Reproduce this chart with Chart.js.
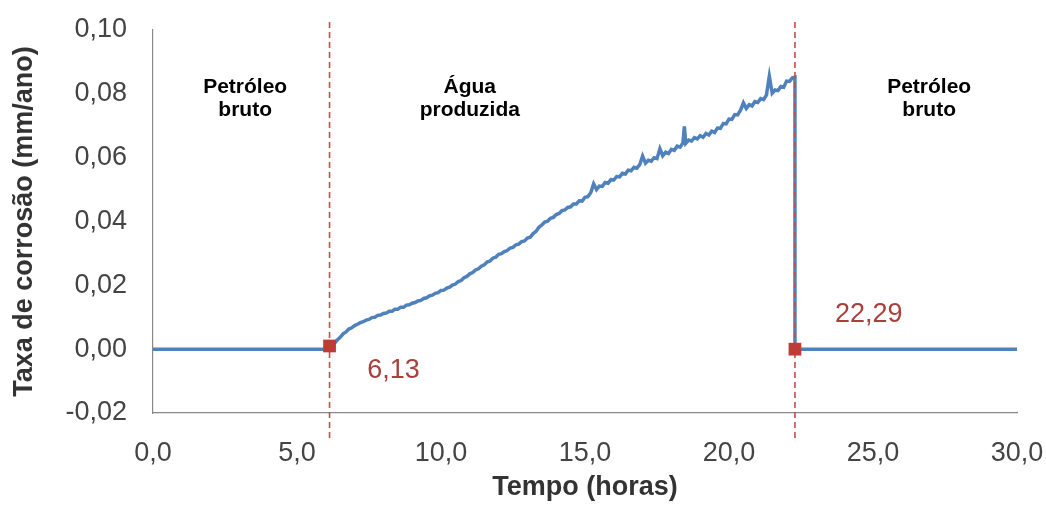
<!DOCTYPE html>
<html>
<head>
<meta charset="utf-8">
<script src="https://cdn.jsdelivr.net/npm/chart.js@4/dist/chart.umd.min.js"></script>
<style>
  html, body { margin: 0; padding: 0; background: #ffffff; }
  #wrap { width: 1046px; height: 505px; }
</style>
</head>
<body>
<div id="wrap"><canvas id="c" width="1046" height="505"></canvas></div>
<script>
// ---- Data ----
const timeHours = [
  0, 6.13, 6.2, 6.3, 6.4, 6.5, 6.6, 6.7, 6.8, 6.9,
  7.0, 7.1, 7.2, 7.3, 7.4, 7.5, 7.6, 7.7, 7.8, 7.9,
  8.0, 8.1, 8.2, 8.3, 8.4, 8.5, 8.6, 8.7, 8.8, 8.9,
  9.0, 9.1, 9.2, 9.3, 9.4, 9.5, 9.6, 9.7, 9.8, 9.9,
  10.0, 10.1, 10.2, 10.3, 10.4, 10.5, 10.6, 10.7, 10.8, 10.9,
  11.0, 11.1, 11.2, 11.3, 11.4, 11.5, 11.6, 11.7, 11.8, 11.9,
  12.0, 12.1, 12.2, 12.3, 12.4, 12.5, 12.6, 12.7, 12.8, 12.9,
  13.0, 13.1, 13.2, 13.3, 13.4, 13.5, 13.6, 13.7, 13.8, 13.9,
  14.0, 14.1, 14.2, 14.3, 14.4, 14.5, 14.6, 14.7, 14.8, 14.9,
  15.0, 15.1, 15.2, 15.3, 15.4, 15.5, 15.6, 15.7, 15.8, 15.9,
  16.0, 16.1, 16.2, 16.3, 16.4, 16.5, 16.6, 16.7, 16.8, 16.9,
  17.0, 17.1, 17.2, 17.3, 17.4, 17.5, 17.6, 17.7, 17.8, 17.9,
  18.0, 18.1, 18.2, 18.3, 18.4, 18.45, 18.5, 18.6, 18.7, 18.8, 18.9,
  19.0, 19.1, 19.2, 19.3, 19.4, 19.5, 19.6, 19.7, 19.8, 19.9,
  20.0, 20.1, 20.2, 20.3, 20.4, 20.5, 20.6, 20.7, 20.8, 20.9,
  21.0, 21.1, 21.2, 21.3, 21.4, 21.5, 21.6, 21.7, 21.8, 21.9,
  22.0, 22.1, 22.2, 22.29, 22.29, 30.0
];
const corrosionRate = [
  0.0000, 0.0000, 0.0008, 0.0018, 0.0029, 0.0037, 0.0048, 0.0054, 0.0063, 0.0067,
  0.0074, 0.0078, 0.0083, 0.0086, 0.0091, 0.0093, 0.0099, 0.0100, 0.0106, 0.0107,
  0.0112, 0.0113, 0.0119, 0.0119, 0.0125, 0.0125, 0.0131, 0.0131, 0.0138, 0.0139,
  0.0144, 0.0146, 0.0151, 0.0153, 0.0159, 0.0161, 0.0167, 0.0169, 0.0175, 0.0177,
  0.0184, 0.0185, 0.0191, 0.0194, 0.0201, 0.0204, 0.0212, 0.0215, 0.0224, 0.0228,
  0.0236, 0.0240, 0.0248, 0.0252, 0.0260, 0.0264, 0.0273, 0.0276, 0.0285, 0.0288,
  0.0297, 0.0299, 0.0306, 0.0309, 0.0317, 0.0319, 0.0327, 0.0329, 0.0337, 0.0339,
  0.0348, 0.0351, 0.0362, 0.0369, 0.0382, 0.0389, 0.0398, 0.0401, 0.0410, 0.0413,
  0.0422, 0.0425, 0.0434, 0.0436, 0.0444, 0.0446, 0.0455, 0.0455, 0.0465, 0.0464,
  0.0476, 0.0478, 0.0490, 0.0518, 0.0500, 0.0511, 0.0510, 0.0522, 0.0520, 0.0531,
  0.0530, 0.0541, 0.0540, 0.0551, 0.0549, 0.0561, 0.0559, 0.0570, 0.0567, 0.0578,
  0.0605, 0.0583, 0.0592, 0.0589, 0.0600, 0.0597, 0.0628, 0.0606, 0.0617, 0.0613,
  0.0626, 0.0623, 0.0636, 0.0633, 0.0646, 0.0698, 0.0645, 0.0655, 0.0652, 0.0663, 0.0659,
  0.0669, 0.0664, 0.0676, 0.0671, 0.0683, 0.0679, 0.0693, 0.0692, 0.0707, 0.0706,
  0.0721, 0.0720, 0.0735, 0.0734, 0.0749, 0.0772, 0.0754, 0.0766, 0.0762, 0.0776,
  0.0773, 0.0785, 0.0782, 0.0796, 0.0855, 0.0802, 0.0812, 0.0810, 0.0823, 0.0821,
  0.0840, 0.0839, 0.0850, 0.0852, 0.0000, 0.0000
];
const transitionTimes = [6.13, 22.29];
const transitionMarkerValues = [0.001, 0.0];
const transitionLabels = ['6,13', '22,29'];
const regionLabels = [['Petróleo', 'bruto'], ['Água', 'produzida'], ['Petróleo', 'bruto']];
const xTickValues = [0, 5, 10, 15, 20, 25, 30];
const xTickLabels = ['0,0', '5,0', '10,0', '15,0', '20,0', '25,0', '30,0'];
const yTickValues = [-0.02, 0.00, 0.02, 0.04, 0.06, 0.08, 0.10];
const yTickLabels = ['-0,02', '0,00', '0,02', '0,04', '0,06', '0,08', '0,10'];
const xAxisTitle = 'Tempo (horas)';
const yAxisTitle = 'Taxa de corrosão (mm/ano)';

// ---- Styles / annotation placement (data coordinates) ----
const regionAnchors = [
  { x: 3.2, y: 0.082 },
  { x: 11.0, y: 0.082 },
  { x: 26.95, y: 0.082 }
];
const transitionLabelAnchors = [
  { x: 8.35, y: -0.0066 },
  { x: 24.85, y: 0.0110 }
];

const seriesPoints = timeHours.map((t, i) => ({ x: t, y: corrosionRate[i] }));
const markerPoints = transitionTimes.map((t, i) => ({ x: t, y: transitionMarkerValues[i] }));

const RED = '#C0504D';
const verticalDatasets = transitionTimes.map(t => ({
  type: 'line',
  data: [{ x: t, y: 0.1025 }, { x: t, y: -0.0285 }],
  borderColor: RED,
  borderWidth: 1.6,
  borderDash: [6, 4],
  pointRadius: 0,
  clip: false,
  order: 0
}));

const textPlugin = {
  id: 'textAnnotations',
  afterDatasetsDraw(chart) {
    const ctx = chart.ctx;
    const xs = chart.scales.x, ys = chart.scales.y;
    ctx.save();
    ctx.textAlign = 'center';
    ctx.textBaseline = 'middle';
    ctx.fillStyle = '#000000';
    ctx.font = 'bold 21px "Liberation Sans", Arial, sans-serif';
    regionLabels.forEach((lines, i) => {
      const px = xs.getPixelForValue(regionAnchors[i].x);
      const py = ys.getPixelForValue(regionAnchors[i].y);
      lines.forEach((ln, j) => ctx.fillText(ln, px, py + j * 23));
    });
    ctx.fillStyle = '#A8403C';
    ctx.font = '27px "Liberation Sans", Arial, sans-serif';
    transitionLabels.forEach((lbl, i) => {
      ctx.fillText(lbl, xs.getPixelForValue(transitionLabelAnchors[i].x), ys.getPixelForValue(transitionLabelAnchors[i].y));
    });
    ctx.restore();
  }
};

const tickFont = { family: '"Liberation Sans", Arial, sans-serif', size: 27 };
const titleFont = { family: '"Liberation Sans", Arial, sans-serif', size: 27, weight: 'bold' };

new Chart(document.getElementById('c'), {
  type: 'line',
  data: {
    datasets: [
      {
        data: markerPoints,
        showLine: false,
        pointStyle: 'rect',
        pointRadius: 9,
        pointBackgroundColor: '#BE3B36',
        pointBorderColor: '#BE3B36',
        pointBorderWidth: 0,
        order: -1
      },
      ...verticalDatasets,
      {
        data: seriesPoints,
        borderColor: '#4F81BD',
        borderWidth: 3.5,
        pointRadius: 0,
        tension: 0,
        order: 1
      }
    ]
  },
  options: {
    responsive: false,
    devicePixelRatio: 1,
    animation: false,
    layout: { padding: { top: 30, right: 29, left: 0, bottom: 0 } },
    plugins: { legend: { display: false }, tooltip: { enabled: false } },
    scales: {
      x: {
        type: 'linear',
        min: 0, max: 30,
        afterBuildTicks: s => { s.ticks = xTickValues.map(v => ({ value: v })); },
        afterFit: s => { s.height = 92; s.paddingLeft = 0; s.paddingRight = 0; },
        grid: { display: false, drawTicks: false },
        border: { display: true, color: '#888888', width: 1.2 },
        ticks: {
          autoSkip: false, maxRotation: 0, padding: 24,
          color: '#444444', font: tickFont,
          callback: (v, i) => xTickLabels[i]
        },
        title: { display: true, text: xAxisTitle, color: '#333333', font: titleFont, padding: { top: 0, bottom: 1 } }
      },
      y: {
        type: 'linear',
        min: -0.02, max: 0.10,
        afterBuildTicks: s => { s.ticks = yTickValues.map(v => ({ value: v })); },
        afterFit: s => { s.width = 153; s.paddingTop = 0; s.paddingBottom = 0; },
        grid: { display: false, drawTicks: false },
        border: { display: true, color: '#888888', width: 1.2 },
        ticks: {
          autoSkip: false, padding: 26,
          color: '#444444', font: tickFont,
          callback: (v, i) => yTickLabels[i]
        },
        title: { display: true, text: yAxisTitle, color: '#333333', font: titleFont, padding: { top: 8, bottom: 4 } }
      }
    }
  },
  plugins: [textPlugin]
});
</script>
</body>
</html>
